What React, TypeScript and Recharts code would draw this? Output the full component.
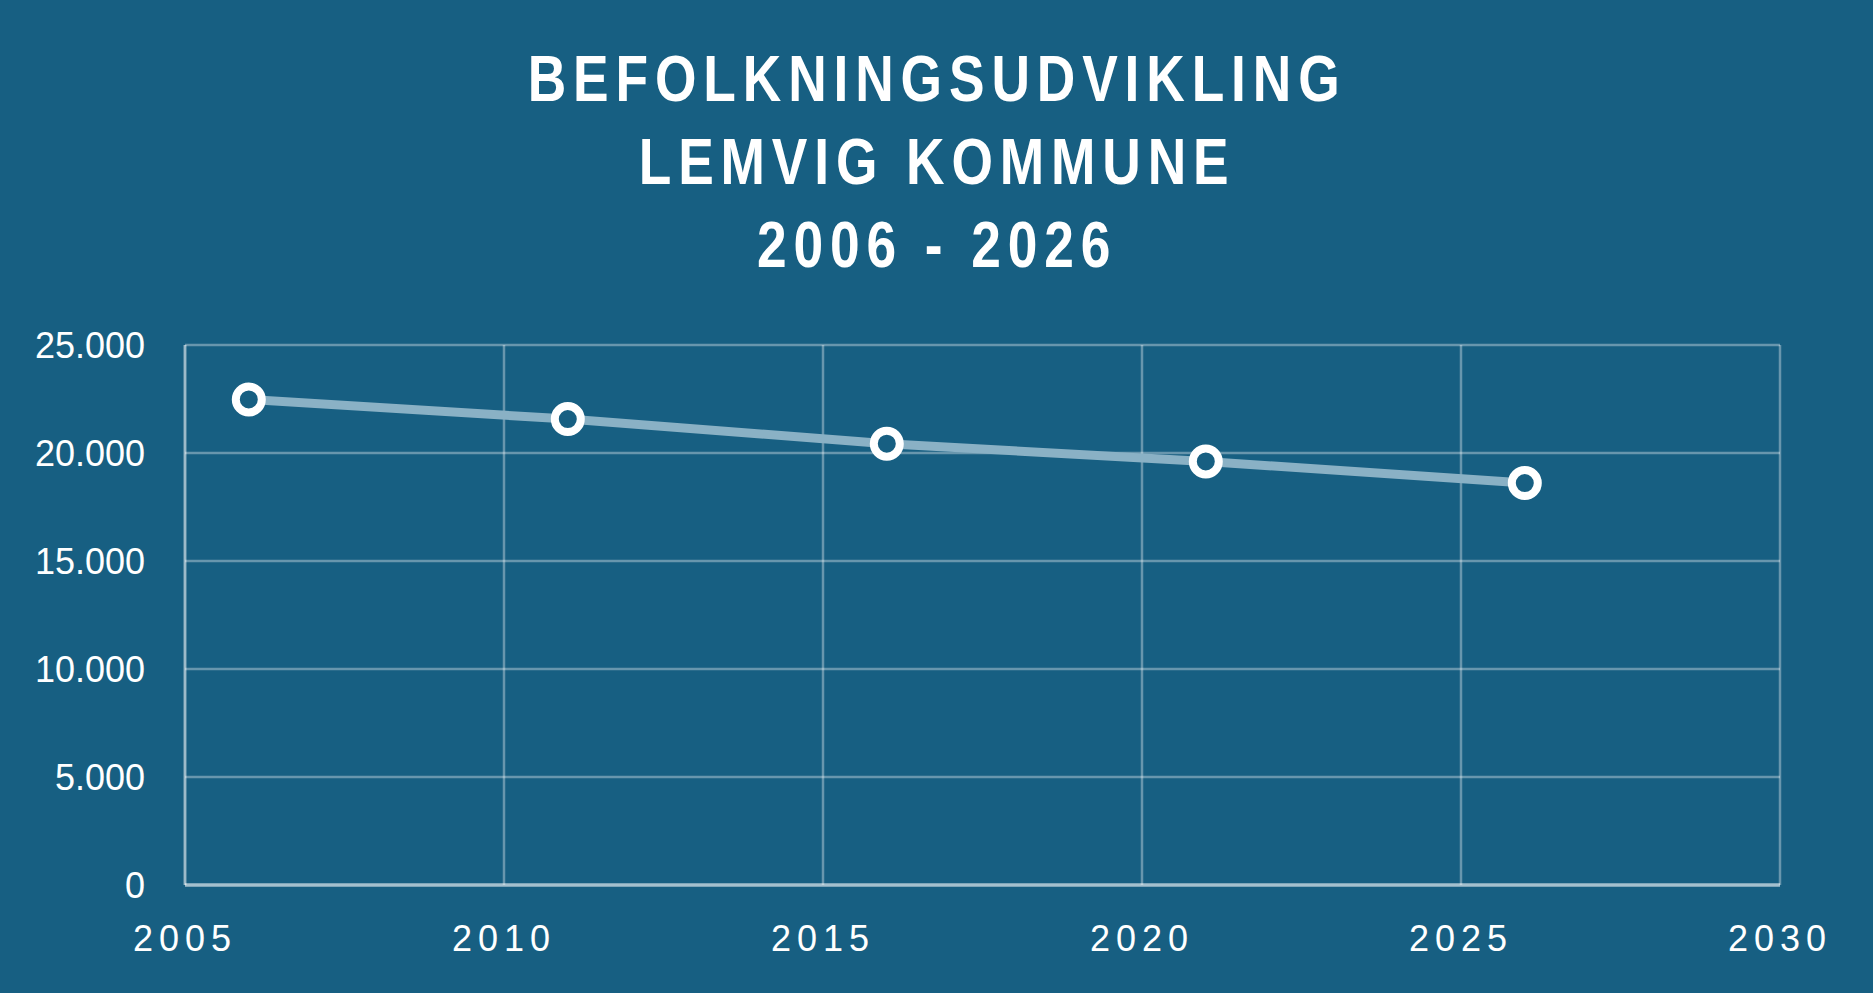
import React from 'react';
import { LineChart, Line, XAxis, YAxis, CartesianGrid } from 'recharts';

const years = [2006, 2011, 2016, 2021, 2026];
const population = [22480, 21570, 20430, 19610, 18610];
const yearTicks = [2005, 2010, 2015, 2020, 2025, 2030];
const populationTicks = [0, 5000, 10000, 15000, 20000, 25000];
const titleLines = ['BEFOLKNINGSUDVIKLING', 'LEMVIG KOMMUNE', '2006 - 2026'];

const data = years.map((year, i) => ({ year, population: population[i] }));

const BG = '#175f82';
const GRID = 'rgba(255,255,255,0.35)';

// danish style thousands separator: 25.000
const formatThousands = (v: number) =>
    String(v).replace(/\B(?=(\d{3})+(?!\d))/g, '.');

export default function App() {
    return (
        <div
            style={{
                position: 'absolute',
                left: 0,
                top: 0,
                width: 1873,
                height: 993,
                background: BG,
                overflow: 'hidden',
            }}
        >
            {/* no narrow font installed, so squeeze the bold sans horizontally */}
            <div
                style={{
                    position: 'absolute',
                    left: 0,
                    top: 37,
                    width: 1873,
                    textAlign: 'center',
                    color: '#ffffff',
                    fontFamily: '"Liberation Sans", Arial, sans-serif',
                    fontWeight: 700,
                    fontSize: 65,
                    lineHeight: '83px',
                    letterSpacing: 8.4,
                    transform: 'scaleX(0.82)',
                    transformOrigin: '940px 0',
                }}
            >
                {titleLines.map((line) => (
                    <div key={line}>{line}</div>
                ))}
            </div>
            <LineChart
                width={1873}
                height={993}
                data={data}
                margin={{ top: 345, right: 93, bottom: 48, left: 65 }}
                style={{ position: 'absolute', left: 0, top: 0 }}
            >
                <CartesianGrid stroke={GRID} strokeWidth={2.5} />
                <XAxis
                    dataKey="year"
                    type="number"
                    domain={[2005, 2030]}
                    ticks={yearTicks}
                    height={60}
                    tickLine={false}
                    tickMargin={34}
                    axisLine={{ stroke: 'rgba(255,255,255,0.4)', strokeWidth: 4 }}
                    tick={{
                        fill: '#ffffff',
                        fontSize: 36,
                        fontFamily: '"Liberation Sans", Arial, sans-serif',
                        letterSpacing: 6,
                    }}
                />
                <YAxis
                    type="number"
                    domain={[0, 25000]}
                    ticks={populationTicks}
                    width={120}
                    tickLine={false}
                    tickMargin={34}
                    axisLine={{ stroke: GRID, strokeWidth: 3 }}
                    tickFormatter={formatThousands}
                    tick={{
                        fill: '#ffffff',
                        fontSize: 36,
                        fontFamily: '"Liberation Sans", Arial, sans-serif',
                    }}
                />
                <Line
                    type="linear"
                    dataKey="population"
                    stroke="#8ab1c5"
                    strokeWidth={9}
                    dot={{ r: 13, stroke: '#ffffff', strokeWidth: 8, fill: BG }}
                    activeDot={false}
                    isAnimationActive={false}
                />
            </LineChart>
        </div>
    );
}
